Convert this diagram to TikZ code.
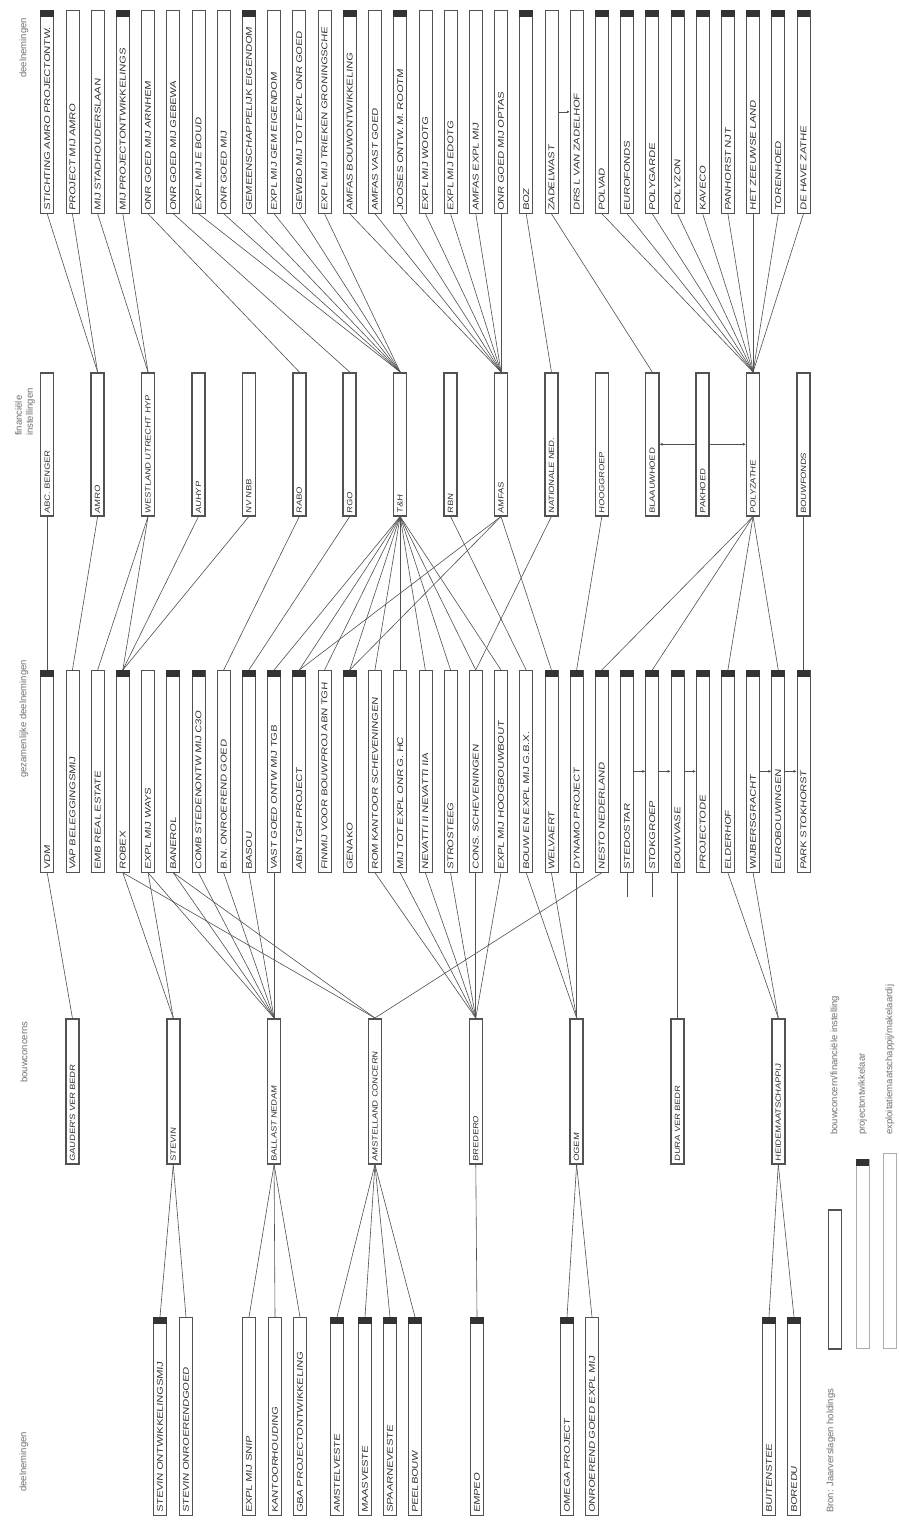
\documentclass[tikz,border=0pt]{standalone}
\usepackage{fontspec}
\setmainfont{Liberation Sans}
\newfontfamily\hand[FakeStretch=1.3,FakeSlant=0.12]{Liberation Sans}
\newfontfamily\handb[FakeStretch=1.2,FakeSlant=0.12]{Liberation Sans}
\usetikzlibrary{calc,arrows.meta}
\definecolor{ink}{HTML}{333333}
\definecolor{wire}{HTML}{505050}
\definecolor{lbl}{HTML}{707070}
\newcommand\cx[1]{\fpeval{47.2+25.21*(#1-1)}}
\tikzset{
  lnk/.style={draw=wire, line width=0.6pt},
  bx/.style={draw=ink!85, line width=0.7pt, rotate=90, anchor=east, inner xsep=2.5pt, inner ysep=0pt,
     minimum height=13pt, align=left, font=\hand\fontsize{8.4}{9}\selectfont, text=ink},
  dbox/.style={bx, text width=198pt},
  gbox/.style={bx, text width=197pt},
  bbox/.style={bx, text width=193pt},
  fbox/.style={bx, line width=1.5pt, text width=138pt, font=\handb\fontsize{7.6}{8}\selectfont},
  cbox/.style={bx, line width=1.5pt, text width=140pt, font=\handb\fontsize{7.6}{8}\selectfont},
  head/.style={rotate=90, anchor=west, font=\fontsize{9.5}{11}\selectfont, text=lbl, align=left, inner sep=0pt},
  arr/.style={lnk, -{Latex[length=3pt,width=3pt]}}
}
\newcommand\capon[1]{\fill[ink] (#1.north east) rectangle ($(#1.south east)+(0,7)$);}
\begin{document}
\begin{tikzpicture}[x=1pt,y=-1pt]
\useasboundingbox (0,0) rectangle (898,1522);
\fill[white] (0,0) rectangle (898,1522);
% headings
\node[head] (h1) at (24,78) {deelnemingen};
\node[head] (h2) at (25,436) {financiële\\instellingen};
\node[head] (h3) at (24,778) {gezamenlijke deelnemingen};
\node[head] (h4) at (24,1083) {bouwconcerns};
\node[head] (h5) at (24,1492) {deelnemingen};
% top row
\node[dbox] (t1) at (\cx{1},10) {STICHTING AMRO PROJECTONTW.};
\node[dbox] (t2) at (\cx{2},10) {PROJECT MIJ AMRO};
\node[dbox] (t3) at (\cx{3},10) {MIJ STADHOUDERSLAAN};
\node[dbox] (t4) at (\cx{4},10) {MIJ PROJECTONTWIKKELINGS};
\node[dbox] (t5) at (\cx{5},10) {ONR GOED MIJ ARNHEM};
\node[dbox] (t6) at (\cx{6},10) {ONR GOED MIJ GEBEWA};
\node[dbox] (t7) at (\cx{7},10) {EXPL MIJ E BOUD};
\node[dbox] (t8) at (\cx{8},10) {ONR GOED MIJ};
\node[dbox] (t9) at (\cx{9},10) {GEMEENSCHAPPELIJK EIGENDOM};
\node[dbox] (t10) at (\cx{10},10) {EXPL MIJ GEM EIGENDOM};
\node[dbox] (t11) at (\cx{11},10) {GEWBO MIJ TOT EXPL ONR GOED};
\node[dbox] (t12) at (\cx{12},10) {EXPL MIJ TRIEKEN GRONINGSCHE};
\node[dbox] (t13) at (\cx{13},10) {AMFAS BOUWONTWIKKELING};
\node[dbox] (t14) at (\cx{14},10) {AMFAS VAST GOED};
\node[dbox] (t15) at (\cx{15},10) {JOOSES ONTW. M. ROOTM};
\node[dbox] (t16) at (\cx{16},10) {EXPL MIJ WOOTG};
\node[dbox] (t17) at (\cx{17},10) {EXPL MIJ EDOTG};
\node[dbox] (t18) at (\cx{18},10) {AMFAS EXPL MIJ};
\node[dbox] (t19) at (\cx{19},10) {ONR GOED MIJ OPTAS};
\node[dbox] (t20) at (\cx{20},10) {BOZ};
\node[dbox] (t21) at (\cx{21},10) {ZADELWAST};
\node[dbox] (t22) at (\cx{22},10) {DRS L VAN ZADELHOF};
\node[dbox] (t23) at (\cx{23},10) {POLVAD};
\node[dbox] (t24) at (\cx{24},10) {EUROFONDS};
\node[dbox] (t25) at (\cx{25},10) {POLYGARDE};
\node[dbox] (t26) at (\cx{26},10) {POLYZON};
\node[dbox] (t27) at (\cx{27},10) {KAVECO};
\node[dbox] (t28) at (\cx{28},10) {PANHORST NJT};
\node[dbox] (t29) at (\cx{29},10) {HET ZEEUWSE LAND};
\node[dbox] (t30) at (\cx{30},10) {TORENHOED};
\node[dbox] (t31) at (\cx{31},10) {DE HAVE ZATHE};
\foreach \n in {t1,t4,t9,t13,t15,t20,t23,t24,t25,t26,t27,t28,t29,t30,t31}{\capon{\n}}
\draw[arr] (t21.south) -- (t22.north);
% financial row
\node[fbox] (f1) at (\cx{1},372) {ABC. BENGER};
\node[fbox] (f2) at (\cx{3},372) {AMRO};
\node[fbox] (f3) at (\cx{5},372) {WESTLAND UTRECHT HYP};
\node[fbox] (f4) at (\cx{7},372) {AUHYP};
\node[fbox] (f5) at (\cx{9},372) {NV NBB};
\node[fbox] (f6) at (\cx{11},372) {RABO};
\node[fbox] (f7) at (\cx{13},372) {RGO};
\node[fbox] (f8) at (\cx{15},372) {T\&H};
\node[fbox] (f9) at (\cx{17},372) {RBN};
\node[fbox] (f10) at (\cx{19},372) {AMFAS};
\node[fbox] (f11) at (\cx{21},372) {NATIONALE NED.};
\node[fbox] (f12) at (\cx{23},372) {HOOGGROEP};
\node[fbox] (f13) at (\cx{25},372) {BLAAUWHOED};
\node[fbox] (f14) at (\cx{27},372) {PAKHOED};
\node[fbox] (f15) at (\cx{29},372) {POLYZATHE};
\node[fbox] (f16) at (\cx{31},372) {BOUWFONDS};
\draw[arr] (f14.north) -- (f13.south);
\draw[arr] (f14.south) -- (f15.north);
% gezamenlijke row
\node[gbox] (g1) at (\cx{1},670) {VDM};
\node[gbox] (g2) at (\cx{2},670) {VAP BELEGGINGSMIJ};
\node[gbox] (g3) at (\cx{3},670) {EMB REAL ESTATE};
\node[gbox] (g4) at (\cx{4},670) {ROBEX};
\node[gbox] (g5) at (\cx{5},670) {EXPL MIJ WAYS};
\node[gbox] (g6) at (\cx{6},670) {BANEROL};
\node[gbox] (g7) at (\cx{7},670) {COMB STEDENONTW MIJ C3O};
\node[gbox] (g8) at (\cx{8},670) {B.N. ONROEREND GOED};
\node[gbox] (g9) at (\cx{9},670) {BASOU};
\node[gbox] (g10) at (\cx{10},670) {VAST GOED ONTW MIJ TGB};
\node[gbox] (g11) at (\cx{11},670) {ABN TGH PROJECT};
\node[gbox] (g12) at (\cx{12},670) {FINMIJ VOOR BOUWPROJ ABN TGH};
\node[gbox] (g13) at (\cx{13},670) {GENAKO};
\node[gbox] (g14) at (\cx{14},670) {ROM KANTOOR SCHEVENINGEN};
\node[gbox] (g15) at (\cx{15},670) {MIJ TOT EXPL ONR G. HC};
\node[gbox] (g16) at (\cx{16},670) {NEVATTI II NEVATTI IIA};
\node[gbox] (g17) at (\cx{17},670) {STROSTEEG};
\node[gbox] (g18) at (\cx{18},670) {CONS. SCHEVENINGEN};
\node[gbox] (g19) at (\cx{19},670) {EXPL MIJ HOOGBOUWBOUT};
\node[gbox] (g20) at (\cx{20},670) {BOUW EN EXPL MIJ G.B.X.};
\node[gbox] (g21) at (\cx{21},670) {WELVAERT};
\node[gbox] (g22) at (\cx{22},670) {DYNAMO PROJECT};
\node[gbox] (g23) at (\cx{23},670) {NESTO NEDERLAND};
\node[gbox] (g24) at (\cx{24},670) {STEDOSTAR};
\node[gbox] (g25) at (\cx{25},670) {STOKGROEP};
\node[gbox] (g26) at (\cx{26},670) {BOUWVASE};
\node[gbox] (g27) at (\cx{27},670) {PROJECTODE};
\node[gbox] (g28) at (\cx{28},670) {ELDERHOF};
\node[gbox] (g29) at (\cx{29},670) {WIJBERSGRACHT};
\node[gbox] (g30) at (\cx{30},670) {EUROBOUWINGEN};
\node[gbox] (g31) at (\cx{31},670) {PARK STOKHORST};
\foreach \n in {g1,g4,g6,g7,g9,g10,g11,g13,g21,g22,g23,g24,g25,g26,g27,g28,g29,g30,g31}{\capon{\n}}
\draw[arr] (g24.south) -- (g25.north);
\draw[arr] (g25.south) -- (g26.north);
\draw[arr] (g26.south) -- (g27.north);
\draw[arr] (g29.south) -- (g30.north);
\draw[arr] (g30.south) -- (g31.north);
\coordinate (d24) at (\cx{24},897);
\coordinate (d25) at (\cx{25},897);
\draw[lnk] (g24.west) -- (d24);
\draw[lnk] (g25.west) -- (d25);
% bouwconcerns
\node[cbox] (c1) at (\cx{2},1018) {GAUDER'S VER BEDR};
\node[cbox] (c2) at (\cx{6},1018) {STEVIN};
\node[cbox] (c3) at (\cx{10},1018) {BALLAST NEDAM};
\node[cbox] (c4) at (\cx{14},1018) {AMSTELLAND CONCERN};
\node[cbox] (c5) at (\cx{18},1018) {BREDERO};
\node[cbox] (c6) at (\cx{22},1018) {OGEM};
\node[cbox] (c7) at (\cx{26},1018) {DURA VER BEDR};
\node[cbox] (c8) at (\cx{30},1018) {HEIDEMAATSCHAPPIJ};
% bottom row
\node[bbox] (b1) at (160,1317) {STEVIN ONTWIKKELINGSMIJ};
\node[bbox] (b2) at (186,1317) {STEVIN ONROERENDGOED};
\node[bbox] (b3) at (249,1317) {EXPL MIJ SNIP};
\node[bbox] (b4) at (275,1317) {KANTOORHOUDING};
\node[bbox] (b5) at (300,1317) {GBA PROJECTONTWIKKELING};
\node[bbox] (b6) at (337,1317) {AMSTELVESTE};
\node[bbox] (b7) at (365,1317) {MAASVESTE};
\node[bbox] (b8) at (390,1317) {SPAARNEVESTE};
\node[bbox] (b9) at (415,1317) {PEELBOUW};
\node[bbox] (b10) at (477,1317) {EMPEO};
\node[bbox] (b11) at (567,1317) {OMEGA PROJECT};
\node[bbox] (b12) at (592,1317) {ONROEREND GOED EXPL MIJ};
\node[bbox] (b13) at (769,1317) {BUITENSTEE};
\node[bbox] (b14) at (794,1317) {BOREDU};
\foreach \n in {b1,b6,b7,b8,b9,b10,b11,b13,b14}{\capon{\n}}
% legend
\node[bx, line width=1.5pt, text width=134pt] (L1) at (835,1209) {};
\node[bx, draw=ink!40, text width=184pt] (L2) at (862.5,1159) {};
\node[bx, draw=ink!40, text width=190pt] (L3) at (890,1153) {};
\capon{L2}
\node[head] (l1) at (835,1135) {bouwconcern/financiële instelling};
\node[head] (l2) at (862.5,1135) {projectontwikkelaar};
\node[head] (l3) at (890,1135) {exploitatiemaatschappij/makelaardij};
\node[head] (src) at (831,1513) {Bron: Jaarverslagen holdings};
% top -> financial
\foreach \a/\b in {t1/f2,t2/f2,t3/f3,t4/f3,t5/f6,t6/f7,t7/f8,t8/f8,t9/f8,t10/f8,t11/f8,t12/f8,
  t13/f10,t14/f10,t15/f10,t16/f10,t17/f10,t18/f10,t19/f10,t20/f11,t21/f13,
  t23/f15,t24/f15,t25/f15,t26/f15,t27/f15,t28/f15,t29/f15,t30/f15,t31/f15}
  {\draw[lnk] (\a.west) -- (\b.east);}
% financial -> gezamenlijk
\foreach \a/\b in {f1/g1,f2/g2,f3/g3,f3/g4,f4/g4,f5/g4,f6/g8,f7/g9,f8/g10,f8/g11,f8/g12,f8/g13,f8/g14,f8/g15,
  f8/g16,f8/g17,f8/g18,f8/g19,f9/g20,f10/g11,f10/g13,f11/g18,f10/g21,f12/g22,f15/g23,f15/g25,f15/g28,f15/g30,f16/g31}
  {\draw[lnk] (\a.west) -- (\b.east);}
% gezamenlijk -> bouwconcerns
\foreach \a/\b in {g1/c1,g4/c2,g5/c2,g5/c3,g6/c3,g7/c3,g8/c3,g9/c3,g10/c3,g4/c4,g6/c4,g23/c4,
  g14/c5,g15/c5,g16/c5,g17/c5,g18/c5,g19/c5,g20/c6,g21/c6,g22/c6,g26/c7,g28/c8,g29/c8}
  {\draw[lnk] (\a.west) -- (\b.east);}
% bouwconcerns -> deelnemingen
\foreach \a/\b in {c2/b1,c2/b2,c3/b3,c3/b4,c3/b5,c4/b6,c4/b7,c4/b8,c4/b9,c5/b10,c6/b11,c6/b12,c8/b13,c8/b14}
  {\draw[lnk] (\a.west) -- (\b.east);}
\end{tikzpicture}
\end{document}
